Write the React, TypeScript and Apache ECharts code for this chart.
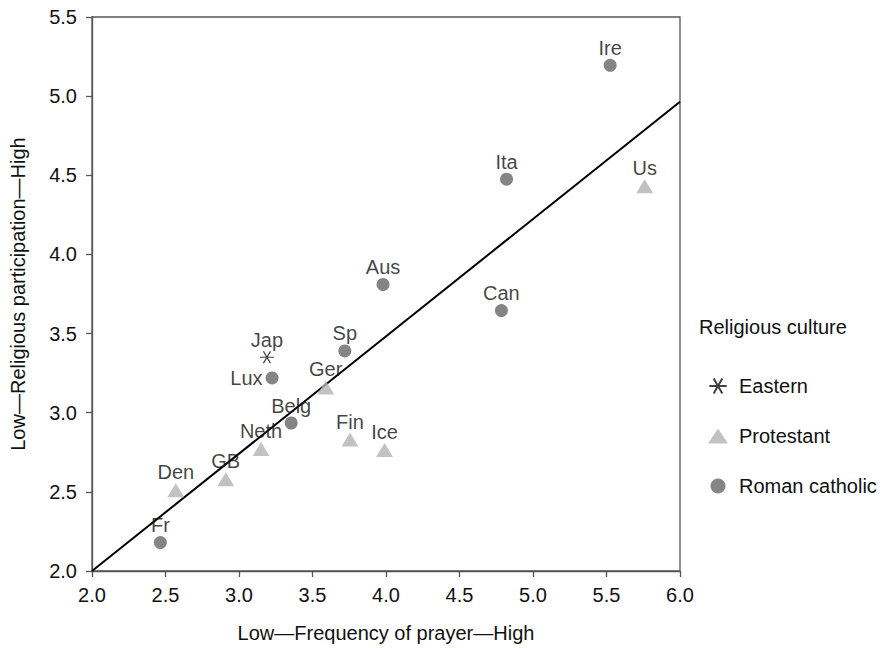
import React, { useEffect, useRef } from "react";
import * as echarts from "echarts";

const easternNames = ["Jap"];
const easternPoints = [[3.19, 3.35]];

const protestantNames = ["Den", "GB", "Neth", "Ger", "Fin", "Ice", "Us"];
const protestantPoints = [
  [2.57, 2.51],
  [2.91, 2.58],
  [3.15, 2.77],
  [3.59, 3.16],
  [3.755, 2.83],
  [3.99, 2.765],
  [5.76, 4.43],
];

const catholicNames = ["Fr", "Belg", "Lux", "Sp", "Aus", "Can", "Ita", "Ire"];
const catholicPoints = [
  [2.465, 2.18],
  [3.355, 2.935],
  [3.225, 3.22],
  [3.72, 3.39],
  [3.98, 3.81],
  [4.785, 3.645],
  [4.82, 4.475],
  [5.525, 5.195],
];

const fitLine = [
  [2.0, 2.0],
  [6.0, 4.965],
];

const xTicks = { min: 2.0, max: 6.0, interval: 0.5 };
const yTicks = { min: 2.0, max: 5.5, interval: 0.5 };

const FONT = "Liberation Sans, Arial, Helvetica, sans-serif";
const FS = 20;
const ASTERISK =
  "path://M-10 0 L10 0 M-5 -8.66 L5 8.66 M-5 8.66 L5 -8.66";

export default function App() {
  const ref = useRef<HTMLDivElement>(null);
  useEffect(() => {
    if (!ref.current) return;
    const chart = echarts.init(ref.current, undefined, { renderer: "svg" });
    const mk = (names: string[], pts: number[][]) =>
      pts.map((p, i) => ({ name: names[i], value: p }));
    const labelBase = {
      show: true,
      position: "top" as const,
      distance: 1,
      formatter: "{b}",
      color: "#111",
      fontSize: FS,
      fontFamily: FONT,
    };
    const axisCommon = {
      axisLine: { show: true, lineStyle: { color: "#555", width: 1.3 } },
      axisTick: { show: true, length: 6, lineStyle: { color: "#555", width: 1.3 } },
      splitLine: { show: false },
      nameLocation: "middle" as const,
      nameTextStyle: { color: "#111", fontSize: FS, fontFamily: FONT },
    };
    chart.setOption({
      animation: false,
      backgroundColor: "#fff",
      textStyle: { fontFamily: FONT },
      grid: {
        left: 92,
        right: 203,
        top: 17,
        bottom: 72,
        show: true,
        borderColor: "#555",
        borderWidth: 1.3,
        backgroundColor: "transparent",
      },
      xAxis: {
        type: "value",
        ...xTicks,
        ...axisCommon,
        name: "Low\u2014Frequency of prayer\u2014High",
        nameGap: 52,
        axisLabel: {
          color: "#111",
          fontSize: FS,
          fontFamily: FONT,
          margin: 14,
          formatter: (v: number) => v.toFixed(1),
        },
      },
      yAxis: {
        type: "value",
        ...yTicks,
        ...axisCommon,
        name: "Low\u2014Religious participation\u2014High",
        nameGap: 64,
        axisLabel: {
          color: "#111",
          fontSize: FS,
          fontFamily: FONT,
          margin: 15,
          formatter: (v: number) => v.toFixed(1),
        },
      },
      legend: {
        orient: "vertical",
        left: 703,
        top: 371,
        itemGap: 30,
        itemWidth: 20,
        itemHeight: 15,
        textStyle: {
          color: "#111",
          fontSize: FS,
          fontFamily: FONT,
          padding: [0, 0, 0, 6],
        },
        data: ["Eastern", "Protestant", "Roman catholic"],
      },
      graphic: [
        {
          type: "text",
          left: 699,
          top: 317,
          style: {
            text: "Religious culture",
            fill: "#111",
            fontSize: FS,
            fontFamily: FONT,
          },
        },
      ],
      series: [
        {
          type: "line",
          name: "fit",
          data: fitLine,
          showSymbol: false,
          symbol: "none",
          lineStyle: { color: "#000", width: 2 },
          z: 1,
          silent: true,
        },
        {
          type: "scatter",
          name: "Eastern",
          data: mk(easternNames, easternPoints),
          symbol: ASTERISK,
          symbolSize: [14, 12],
          itemStyle: { color: "transparent", borderColor: "#111", borderWidth: 1.2 },
          label: { ...labelBase },
          z: 3,
        },
        {
          type: "scatter",
          name: "Protestant",
          data: mk(protestantNames, protestantPoints),
          symbol: "triangle",
          symbolSize: [17, 14],
          itemStyle: { color: "#b3b3b3" },
          label: { ...labelBase },
          z: 3,
        },
        {
          type: "scatter",
          name: "Roman catholic",
          data: mk(catholicNames, catholicPoints).map((d) =>
            d.name === "Lux"
              ? { ...d, label: { position: "left", distance: 3 } }
              : d
          ),
          symbol: "circle",
          symbolSize: 13,
          itemStyle: { color: "#666" },
          label: { ...labelBase },
          z: 3,
        },
      ],
    });
    return () => chart.dispose();
  }, []);
  return (
    <div
      ref={ref}
      style={{ position: "fixed", left: 0, top: 0, width: 883, height: 648 }}
    />
  );
}
